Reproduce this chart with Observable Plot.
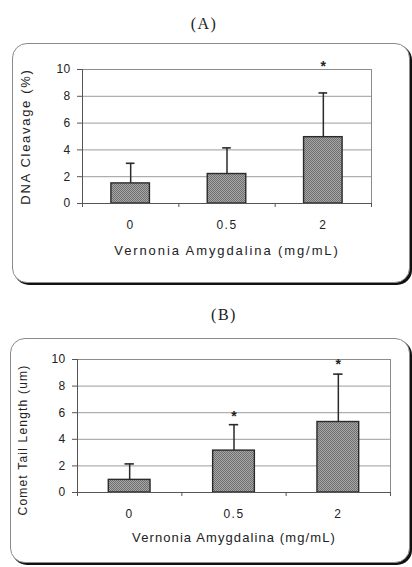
<!DOCTYPE html>
<html>
<head>
<meta charset="utf-8">
<script src="https://cdn.jsdelivr.net/npm/d3@7"></script>
<script src="https://cdn.jsdelivr.net/npm/@observablehq/plot@0.6"></script>
<style>
  html, body { margin: 0; padding: 0; background: #fff; }
  #wrap { position: relative; width: 412px; height: 567px; overflow: hidden; background: #fff; }
  .box { position: absolute; border: 1px solid #8a8a8a; border-radius: 15px; box-shadow: 2px 2px 0 #111; background: #fff; }
  .title { position: absolute; font-family: "Liberation Serif", "Times New Roman", serif; font-size: 16px; letter-spacing: 1.5px; color: #222; transform: translate(-50%, -50%); white-space: nowrap; }
  .panel { position: absolute; left: 0; }
  .panel svg { display: block; }
  .panel g[aria-label="x-axis tick label"] text { letter-spacing: 1.5px; }
  .panel g[aria-label="y-axis tick label"] text { letter-spacing: 0.3px; }
</style>
</head>
<body>
<div id="wrap">
  <div class="box" style="left:12px; top:43px; width:396px; height:238px;"></div>
  <div class="box" style="left:10px; top:338px; width:398px; height:223px;"></div>
  <div class="title" style="left:204px; top:24px;">(A)</div>
  <div class="title" style="left:224px; top:315px;">(B)</div>
  <div class="panel" id="panelA" style="top:0px;"></div>
  <div class="panel" id="panelB" style="top:290px;"></div>
</div>
<script>
// ---- data ----
const categories = ["0", "0.5", "2"];           // Vernonia Amygdalina (mg/mL)
const yTicks = [0, 2, 4, 6, 8, 10];

// (A) DNA cleavage (%)
const cleavageMean = [1.5, 2.2, 4.95];
const cleavageErrTop = [3.0, 4.15, 8.25];
const cleavageStar = [null, null, 10.45];

// (B) Comet tail length (um)
const tailMean = [0.95, 3.15, 5.3];
const tailErrTop = [2.15, 5.1, 8.9];
const tailStar = [null, 5.95, 9.9];

function panel(cfg) {
  const rows = categories.map((c, i) => ({i, cat: c, value: cfg.mean[i], top: cfg.top[i], star: cfg.star[i]}));
  const stars = rows.filter(d => d.star != null);
  const idx = categories.map((c, i) => i);
  const x0 = -0.5, x1 = categories.length - 0.5;
  const bounds = categories.map((c, i) => i - 0.5).concat([x1]);
  const svg = Plot.plot({
    width: 412,
    height: cfg.height,
    marginLeft: cfg.ml, marginRight: cfg.mr, marginTop: cfg.mt, marginBottom: cfg.mb,
    x: {domain: [x0, x1]},
    y: {domain: [0, 10]},
    style: {background: "transparent", fontFamily: "'Liberation Sans', Arial, sans-serif", fontSize: "12px", color: "#222"},
    marks: [
      Plot.gridY(yTicks.filter(v => v > 0), {stroke: "#9c9c9c", strokeOpacity: 1}),
      Plot.frame({stroke: "#8c8c8c"}),
      Plot.rect(rows, {x1: d => d.i - 0.2, x2: d => d.i + 0.2, y1: 0, y2: "value", fill: `url(#${cfg.pid})`, stroke: "#2a2a2a", strokeWidth: 1.4}),
      Plot.ruleX(rows, {x: "i", y1: "value", y2: "top", stroke: "#2a2a2a", strokeWidth: 1.5}),
      Plot.ruleY(rows, {y: "top", x1: d => d.i - 0.045, x2: d => d.i + 0.045, stroke: "#2a2a2a", strokeWidth: 1.6}),
      Plot.ruleY([0], {stroke: "#555"}),
      Plot.ruleX([x0], {stroke: "#555"}),
      Plot.axisY({ticks: yTicks, tickSize: 5, tickPadding: cfg.ytp, stroke: "#555", label: null, fontSize: 12}),
      Plot.axisX({ticks: bounds, tickSize: 4, tickFormat: () => "", stroke: "#555", label: null}),
      Plot.axisX({ticks: idx, tickSize: 0, tickPadding: 16.5, tickFormat: i => categories[i], label: null, fontSize: 12}),
      Plot.text(stars, {x: "i", y: "star", text: () => "*", fontSize: 14, fontWeight: "bold", dy: 3.5}),
      Plot.text([cfg.xTitle], {frameAnchor: "bottom", textAnchor: "middle", dy: cfg.xdy, fontSize: 13}),
      Plot.text([cfg.yTitle], {frameAnchor: "left", textAnchor: "middle", lineAnchor: "middle", rotate: -90, dx: cfg.ydx, dy: cfg.ydy, fontSize: cfg.yfs})
    ]
  });
  const sel = d3.select(svg);
  sel.selectAll("text").filter(function () { return this.textContent === cfg.xTitle; }).style("letter-spacing", cfg.xls + "px");
  sel.selectAll("text").filter(function () { return this.textContent === cfg.yTitle; }).style("letter-spacing", cfg.yls + "px");
  const defs = sel.insert("defs", ":first-child");
  const p = defs.append("pattern").attr("id", cfg.pid).attr("width", 2).attr("height", 2).attr("patternUnits", "userSpaceOnUse");
  p.append("rect").attr("width", 2).attr("height", 2).attr("fill", "#a6a6a6");
  p.append("rect").attr("width", 1).attr("height", 1).attr("fill", "#707070");
  p.append("rect").attr("x", 1).attr("y", 1).attr("width", 1).attr("height", 1).attr("fill", "#707070");
  return svg;
}

document.getElementById("panelA").appendChild(panel({
  pid: "patA", mean: cleavageMean, top: cleavageErrTop, star: cleavageStar,
  height: 290, ml: 82, mr: 41, mt: 69, mb: 87, ytp: 7,
  xTitle: "Vernonia Amygdalina (mg/mL)", xdy: 51, xls: 1.9,
  yTitle: "DNA Cleavage (%)", ydx: -57, ydy: 0, yfs: 13, yls: 1.7
}));

document.getElementById("panelB").appendChild(panel({
  pid: "patB", mean: tailMean, top: tailErrTop, star: tailStar,
  height: 277, ml: 77, mr: 22, mt: 69, mb: 75, ytp: 7,
  xTitle: "Vernonia Amygdalina (mg/mL)", xdy: 49, xls: 1.1,
  yTitle: "Comet Tail Length (um)", ydx: -54.5, ydy: 14, yfs: 12, yls: 1.2
}));
</script>
</body>
</html>
